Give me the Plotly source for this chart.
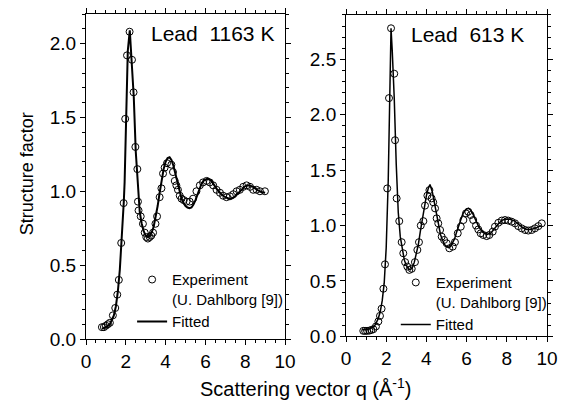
import plotly.graph_objects as go

# ---------------- data: Lead 1163 K ----------------
exp1_q = [0.80, 0.90, 1.00, 1.10, 1.20, 1.35, 1.47, 1.57, 1.65, 1.77, 1.89, 1.97, 2.06, 2.19, 2.31, 2.39,
          2.48, 2.58, 2.61, 2.64, 2.75, 2.86, 2.95, 3.03, 3.11, 3.20, 3.28, 3.37, 3.49, 3.57, 3.70, 3.79,
          3.87, 3.95, 4.07, 4.29, 4.37, 4.46, 4.54, 4.62, 4.71, 4.80, 4.91, 5.05, 5.21, 5.38, 5.55, 5.72,
          5.88, 6.06, 6.22, 6.39, 6.56, 6.73, 6.89, 7.06, 7.23, 7.40, 7.57, 7.73, 7.90, 8.07, 8.24, 8.40,
          8.57, 8.74, 8.99]
exp1_s = [0.08, 0.08, 0.09, 0.10, 0.11, 0.16, 0.21, 0.30, 0.40, 0.65, 0.92, 1.49, 1.92, 2.08, 1.89, 1.67,
          1.30, 1.15, 0.93, 0.87, 0.83, 0.78, 0.72, 0.69, 0.68, 0.69, 0.70, 0.72, 0.78, 0.83, 0.96, 1.02,
          1.12, 1.16, 1.19, 1.18, 1.13, 1.07, 1.04, 1.01, 0.97, 0.95, 0.94, 0.93, 0.93, 0.95, 1.00, 1.04,
          1.06, 1.07, 1.06, 1.04, 1.01, 0.99, 0.97, 0.96, 0.966, 0.98, 1.00, 1.01, 1.03, 1.04, 1.03, 1.01,
          1.01, 1.00, 1.00]

fit1_q = [0.8, 1.0, 1.2, 1.4, 1.5, 1.6, 1.7, 1.8, 1.9, 1.94, 2.0, 2.1, 2.2, 2.3, 2.4, 2.5, 2.6, 2.7,
          2.8, 2.9, 3.0, 3.1, 3.2, 3.3, 3.4, 3.5, 3.6, 3.7, 3.8, 3.9, 4.0, 4.1, 4.2, 4.3, 4.4, 4.5, 4.6,
          4.7, 4.8, 4.9, 5.0, 5.1, 5.2, 5.3, 5.4, 5.5, 5.6, 5.7, 5.8, 5.9, 6.0, 6.1, 6.2, 6.3, 6.4, 6.6,
          6.8, 7.0, 7.2, 7.4, 7.6, 7.8, 8.0, 8.2, 8.4, 8.6, 8.8, 9.0]
fit1_s = [0.07, 0.08, 0.10, 0.16, 0.22, 0.32, 0.47, 0.68, 0.93, 1.06, 1.45, 1.95, 2.09, 1.90, 1.64, 1.27,
          1.02, 0.86, 0.78, 0.73, 0.70, 0.69, 0.70, 0.72, 0.76, 0.82, 0.90, 0.99, 1.08, 1.15, 1.20, 1.225,
          1.23, 1.21, 1.17, 1.11, 1.05, 0.99, 0.95, 0.92, 0.90, 0.89, 0.885, 0.89, 0.91, 0.94, 0.98, 1.02,
          1.05, 1.07, 1.08, 1.085, 1.08, 1.07, 1.05, 1.01, 0.98, 0.96, 0.95, 0.955, 0.98, 1.01, 1.035,
          1.04, 1.03, 1.01, 0.995, 0.99]

# ---------------- data: Lead 613 K ----------------
exp2_q = [0.86, 0.95, 1.05, 1.16, 1.26, 1.36, 1.49, 1.61, 1.69, 1.77, 1.86, 1.94, 2.05, 2.14, 2.24, 2.40,
          2.44, 2.52, 2.65, 2.77, 2.85, 2.94, 3.05, 3.15, 3.27, 3.43, 3.55, 3.63, 3.72, 3.85, 3.93, 4.05,
          4.15, 4.26, 4.34, 4.43, 4.51, 4.59, 4.68, 4.76, 4.88, 5.01, 5.14, 5.31, 5.42, 5.56, 5.71, 5.84,
          5.97, 6.08, 6.20, 6.33, 6.47, 6.58, 6.70, 6.83, 7.00, 7.13, 7.30, 7.41, 7.58, 7.75, 7.91, 8.07,
          8.24, 8.41, 8.57, 8.74, 8.91, 9.07, 9.24, 9.40, 9.57, 9.74]
exp2_s = [0.05, 0.05, 0.05, 0.052, 0.058, 0.065, 0.09, 0.135, 0.185, 0.25, 0.43, 0.65, 1.335, 2.15, 2.78,
          2.37, 1.77, 1.245, 1.04, 0.85, 0.75, 0.67, 0.63, 0.60, 0.61, 0.67, 0.78, 0.85, 1.00, 1.04, 1.18,
          1.27, 1.32, 1.245, 1.21, 1.155, 1.065, 1.02, 0.96, 0.90, 0.87, 0.84, 0.795, 0.81, 0.85, 0.93,
          0.99, 1.05, 1.11, 1.125, 1.095, 1.05, 1.00, 0.965, 0.93, 0.915, 0.905, 0.915, 0.945, 0.99, 1.025,
          1.045, 1.05, 1.045, 1.035, 1.02, 0.995, 0.975, 0.96, 0.955, 0.96, 0.975, 0.995, 1.02]

fit2_q = [0.8, 1.0, 1.2, 1.4, 1.5, 1.6, 1.7, 1.8, 1.9, 2.0, 2.1, 2.2, 2.24, 2.3, 2.4, 2.5, 2.6, 2.7, 2.8,
          2.9, 3.0, 3.1, 3.2, 3.3, 3.4, 3.5, 3.6, 3.7, 3.8, 3.9, 4.0, 4.1, 4.18, 4.3, 4.4, 4.5, 4.6, 4.7,
          4.8, 4.9, 5.0, 5.1, 5.2, 5.3, 5.4, 5.5, 5.6, 5.7, 5.8, 5.9, 6.0, 6.1, 6.2, 6.3, 6.4, 6.5, 6.6,
          6.8, 7.0, 7.2, 7.4, 7.6, 7.8, 8.0, 8.2, 8.4, 8.6, 8.8, 9.0, 9.2, 9.4, 9.6, 9.7]
fit2_s = [0.06, 0.06, 0.07, 0.09, 0.12, 0.16, 0.22, 0.32, 0.48, 0.80, 1.40, 2.45, 2.78, 2.58, 2.15, 1.55,
          1.12, 0.90, 0.78, 0.69, 0.64, 0.61, 0.60, 0.62, 0.67, 0.74, 0.83, 0.95, 1.07, 1.18, 1.27, 1.34,
          1.37, 1.30, 1.20, 1.09, 0.99, 0.92, 0.87, 0.83, 0.81, 0.80, 0.81, 0.84, 0.88, 0.94, 1.00, 1.06,
          1.10, 1.13, 1.15, 1.155, 1.14, 1.11, 1.07, 1.03, 0.99, 0.94, 0.92, 0.93, 0.97, 1.02, 1.05, 1.06,
          1.055, 1.04, 1.01, 0.98, 0.965, 0.965, 0.975, 0.99, 1.00]

x_ticks = [0, 2, 4, 6, 8, 10]
y1_ticks = [0.0, 0.5, 1.0, 1.5, 2.0]
y2_ticks = [0.0, 0.5, 1.0, 1.5, 2.0, 2.5]

FONT = "Liberation Sans, Arial, Helvetica, sans-serif"

fig = go.Figure()

fig.add_trace(go.Scatter(x=fit1_q, y=fit1_s, mode="lines", name="Fitted",
                         line=dict(color="black", width=2), xaxis="x", yaxis="y", legend="legend",
                         legendrank=2))
fig.add_trace(go.Scatter(x=exp1_q, y=exp1_s, mode="markers", name="Experiment<br>(U. Dahlborg [9])",
                         marker=dict(symbol="circle-open", size=7, color="black", line=dict(width=1)),
                         xaxis="x", yaxis="y", legend="legend", legendrank=1))
fig.add_trace(go.Scatter(x=fit2_q, y=fit2_s, mode="lines", name="Fitted",
                         line=dict(color="black", width=1.5), xaxis="x2", yaxis="y2", legend="legend2",
                         legendrank=2))
fig.add_trace(go.Scatter(x=exp2_q, y=exp2_s, mode="markers", name="Experiment<br>(U. Dahlborg [9])",
                         marker=dict(symbol="circle-open", size=7, color="black", line=dict(width=1)),
                         xaxis="x2", yaxis="y2", legend="legend2", legendrank=1))

axcommon = dict(showline=True, linecolor="black", linewidth=1, mirror="allticks", ticks="outside",
                ticklen=5, tickwidth=1, tickcolor="black", showgrid=False, zeroline=False,
                automargin=False,
                tickfont=dict(family=FONT, size=19, color="black"))

fig.update_layout(
    width=566, height=392,
    margin=dict(l=78, r=27, t=6, b=61, autoexpand=False),
    paper_bgcolor="white", plot_bgcolor="white",
    showlegend=True,
    font=dict(family=FONT, color="black"),
    xaxis=dict(domain=[0, 0.4317], range=[0, 10], tickvals=x_ticks, anchor="y",
               minor=dict(dtick=0.5, ticks="outside", ticklen=3, tickcolor="black"), **axcommon),
    yaxis=dict(domain=[0, 1], range=[0, 2.2], tickvals=y1_ticks, tickformat=".1f", anchor="x",
               minor=dict(dtick=0.1, ticks="outside", ticklen=3, tickcolor="black"), **axcommon),
    xaxis2=dict(domain=[0.564, 1], range=[0, 10], tickvals=x_ticks, anchor="y2",
                minor=dict(dtick=0.5, ticks="outside", ticklen=3, tickcolor="black"), **axcommon),
    yaxis2=dict(domain=[0.008, 0.997], range=[0, 2.9], tickvals=y2_ticks, tickformat=".1f", anchor="x2",
                minor=dict(dtick=0.1, ticks="outside", ticklen=3, tickcolor="black"), **axcommon),
    legend=dict(x=0.1, y=0.233, xanchor="left", yanchor="top", bgcolor="rgba(0,0,0,0)",
                font=dict(family=FONT, size=15, color="black"), valign="top", tracegroupgap=0),
    legend2=dict(x=0.672, y=0.224, xanchor="left", yanchor="top", bgcolor="rgba(0,0,0,0)",
                 font=dict(family=FONT, size=15, color="black"), valign="top", tracegroupgap=0),
    annotations=[
        dict(text="Lead\u00a0 1163 K", xref="x", yref="y", x=9.55, y=2.07, xanchor="right",
             yanchor="middle", showarrow=False, font=dict(family=FONT, size=21, color="black")),
        dict(text="Lead\u00a0 613 K", xref="x2", yref="y2", x=8.95, y=2.72, xanchor="right",
             yanchor="middle", showarrow=False, font=dict(family=FONT, size=21, color="black")),
        dict(text="Scattering vector q (Å<sup>-1</sup>)", xref="paper", yref="paper", x=0.477, y=-0.15,
             xanchor="center", yanchor="middle", showarrow=False,
             font=dict(family=FONT, size=20, color="black")),
        dict(text="Structure factor", xref="paper", yref="paper", x=-0.128, y=0.51, textangle=-90,
             xanchor="center", yanchor="middle", showarrow=False,
             font=dict(family=FONT, size=18, color="black")),
    ],
)

fig.write_html("out.html")
